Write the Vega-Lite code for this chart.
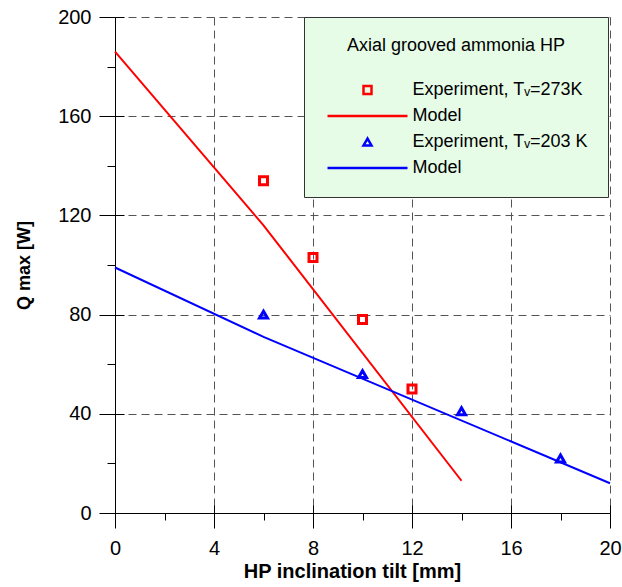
{
  "$schema": "https://vega.github.io/schema/vega-lite/v6.json",
  "width": 495,
  "height": 496,
  "autosize": {"type": "none"},
  "padding": {"left": 115, "top": 17, "right": 12, "bottom": 74},
  "background": "white",
  "config": {
    "font": "Liberation Sans",
    "view": {"stroke": null},
    "legend": {
      "padding": 20,
      "fillColor": "#e6fce6",
      "strokeColor": "#333333",
      "titleFontSize": 18,
      "titleFontWeight": "normal",
      "titleColor": "black",
      "titleAnchor": "middle",
      "titlePadding": 26,
      "titleLimit": 400,
      "labelFontSize": 18,
      "labelColor": "black",
      "labelLimit": 300,
      "rowPadding": 8,
      "symbolStrokeWidth": 2.5,
      "symbolSize": 64,
      "symbolOffset": 34.5,
      "labelOffset": 36
    }
  },
  "datasets": {
    "models": [
      {"tilt": 0, "qmax": 186, "series": "m273"},
      {"tilt": 6, "qmax": 116, "series": "m273"},
      {"tilt": 14, "qmax": 13, "series": "m273"},
      {"tilt": 0, "qmax": 99, "series": "m203"},
      {"tilt": 6, "qmax": 71, "series": "m203"},
      {"tilt": 20, "qmax": 12, "series": "m203"}
    ],
    "exp273": [
      {"tilt": 6, "qmax": 134, "series": "e273"},
      {"tilt": 8, "qmax": 103, "series": "e273"},
      {"tilt": 10, "qmax": 78, "series": "e273"},
      {"tilt": 12, "qmax": 50, "series": "e273"}
    ],
    "exp203": [
      {"tilt": 6, "qmax": 80, "series": "e203"},
      {"tilt": 10, "qmax": 56, "series": "e203"},
      {"tilt": 14, "qmax": 41, "series": "e203"},
      {"tilt": 18, "qmax": 22, "series": "e203"}
    ]
  },
  "layer": [
    {
      "data": {"name": "models"},
      "mark": {"type": "line", "strokeWidth": 2},
      "encoding": {
        "x": {
          "field": "tilt", "type": "quantitative",
          "scale": {"domain": [0, 20], "nice": false, "zero": false},
          "axis": {
            "orient": "bottom", "title": "HP inclination tilt [mm]",
            "values": [0, 4, 8, 12, 16, 20], "tickSize": 15, "tickColor": "black",
            "domainColor": "black", "labelFontSize": 20, "labelColor": "black",
            "labelPadding": 10, "labelFlush": false, "titleFontSize": 20, "titleFontWeight": "bold",
            "titleColor": "black", "titlePadding": 3, "titleX": 237, "grid": true, "gridColor": "#555555",
            "gridDash": [8, 5], "gridWidth": 1
          }
        },
        "y": {
          "field": "qmax", "type": "quantitative",
          "scale": {"domain": [0, 200], "nice": false},
          "axis": {
            "orient": "left", "title": "Q max [W]",
            "values": [0, 40, 80, 120, 160, 200], "tickSize": 16, "tickColor": "black",
            "domainColor": "black", "labelFontSize": 20, "labelColor": "black",
            "labelPadding": 8, "labelFlush": false, "titleFontSize": 18, "titleFontWeight": "bold",
            "titleColor": "black", "titlePadding": 24, "grid": true, "gridColor": "#555555",
            "gridDash": [8, 5], "gridWidth": 1
          }
        },
        "color": {
          "field": "series", "type": "nominal", "title": "Axial grooved ammonia HP",
          "scale": {"domain": ["e273", "m273", "e203", "m203"], "range": ["#ff0000", "#ff0000", "#0000ff", "#0000ff"]},
          "legend": {
            "orient": "none", "legendX": 189, "legendY": 0,
            "labelExpr": "datum.value == 'e273' ? 'Experiment, Tᵥ=273K' : datum.value == 'e203' ? 'Experiment, Tᵥ=203 K' : 'Model'"
          }
        }
      }
    },
    {
      "data": {"name": "exp273"},
      "mark": {"type": "point", "filled": false, "strokeWidth": 3, "size": 64, "opacity": 1},
      "encoding": {
        "x": {
          "field": "tilt", "type": "quantitative",
          "axis": {"orient": "bottom", "values": [2, 6, 10, 14, 18], "tickSize": 7, "tickColor": "black", "labels": false, "domain": false, "grid": false, "title": null}
        },
        "y": {
          "field": "qmax", "type": "quantitative",
          "axis": {"orient": "left", "values": [20, 60, 100, 140, 180], "tickSize": 8, "tickColor": "black", "labels": false, "domain": false, "grid": false, "title": null}
        },
        "color": {"field": "series", "type": "nominal", "title": "Axial grooved ammonia HP"},
        "shape": {
          "field": "series", "type": "nominal", "title": "Axial grooved ammonia HP",
          "scale": {"domain": ["e273", "m273", "e203", "m203"], "range": ["square", "M-10,0L10,0", "triangle-up", "M-10,0L10,0"]}
        }
      }
    },
    {
      "data": {"name": "exp203"},
      "mark": {"type": "point", "filled": false, "strokeWidth": 3, "size": 64, "opacity": 1},
      "encoding": {
        "x": {
          "field": "tilt", "type": "quantitative",
          "axis": {"orient": "bottom", "values": [0, 4, 8, 12, 16, 20], "tickSize": -8, "tickColor": "black", "labels": false, "domain": false, "grid": false, "title": null}
        },
        "y": {
          "field": "qmax", "type": "quantitative",
          "axis": {"orient": "left", "values": [0, 40, 80, 120, 160, 200], "tickSize": -9, "tickColor": "black", "labels": false, "domain": false, "grid": false, "title": null}
        },
        "color": {"field": "series", "type": "nominal", "title": "Axial grooved ammonia HP"},
        "shape": {"field": "series", "type": "nominal", "title": "Axial grooved ammonia HP"}
      }
    }
  ],
  "resolve": {"axis": {"x": "independent", "y": "independent"}}
}
